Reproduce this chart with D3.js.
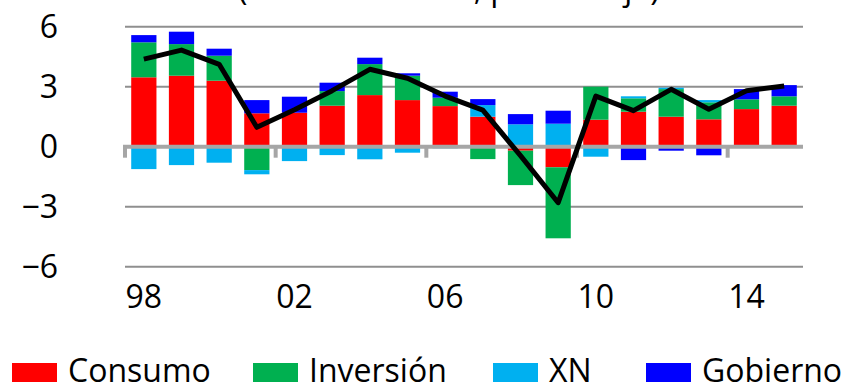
<!DOCTYPE html>
<html>
<head>
<meta charset="utf-8">
<script src="https://cdn.jsdelivr.net/npm/d3@7"></script>
<style>
  html, body { margin: 0; padding: 0; background: #fff; }
  svg { display: block; font-family: "Open Sans", sans-serif; }
</style>
</head>
<body>
<svg id="chart" width="850" height="385"></svg>
<script>
// Contribuciones al crecimiento del PIB por componente
const years = ["98","99","00","01","02","03","04","05","06","07","08","09","10","11","12","13","14","15"];
const tickLabels = ["98","02","06","10","14"];
const consumo   = [3.47, 3.55, 3.30, 1.67, 1.70, 2.05, 2.58, 2.33, 2.03, 1.50, -0.20, -1.03, 1.35, 1.75, 1.50, 1.37, 1.88, 2.05];
const inversion = [1.75, 1.58, 1.25, -1.17, 0.00, 0.73, 1.55, 1.22, 0.42, -0.62, -1.72, -3.55, 1.65, 0.67, 1.38, 0.85, 0.49, 0.47];
const xn        = [-1.12, -0.92, -0.80, -0.21, -0.72, -0.42, -0.63, -0.30, -0.08, 0.58, 1.12, 1.15, -0.50, 0.10, 0.07, 0.11, 0.00, 0.00];
const gobierno  = [0.36, 0.62, 0.35, 0.66, 0.80, 0.42, 0.32, 0.12, 0.30, 0.30, 0.51, 0.65, 0.00, -0.67, -0.20, -0.43, 0.51, 0.56];
const pib       = [4.38, 4.83, 4.12, 0.97, 1.85, 2.80, 3.87, 3.42, 2.53, 1.83, -0.45, -2.80, 2.53, 1.80, 2.87, 1.87, 2.80, 3.03];
const yTicks = [6, 3, 0, -3, -6];

const seriesNames = ["Consumo", "Inversión", "XN", "Gobierno"];
const colors = ["#ff0000", "#00b050", "#00b0f0", "#0000ff"];

const rows = years.map((y, i) => ({
  year: y,
  "Consumo": consumo[i],
  "Inversión": inversion[i],
  "XN": xn[i],
  "Gobierno": gobierno[i]
}));

const svg = d3.select("#chart");

const x = d3.scaleBand().domain(years).range([125, 803]).paddingInner(0.33).paddingOuter(0.165);
const y = d3.scaleLinear().domain([-6, 6]).range([266.7, 26.7]);

// título (parcialmente visible en el borde superior)
svg.append("text")
  .attr("x", 238).attr("y", 0)
  .attr("font-size", 32)
  .attr("fill", "#000")
  .text("(variación anual, porcentaje)");

// líneas de referencia horizontales
svg.append("g")
  .selectAll("line")
  .data(yTicks.filter(d => d !== 0))
  .join("line")
  .attr("x1", 125).attr("x2", 803)
  .attr("y1", d => y(d)).attr("y2", d => y(d))
  .attr("stroke", "#8f8f8f").attr("stroke-width", 2);

// etiquetas del eje vertical
const yAxis = d3.axisLeft(y).tickValues(yTicks).tickSize(0).tickPadding(0).tickFormat(d3.format("d"));
const gy = svg.append("g").attr("transform", "translate(58,0)").call(yAxis);
gy.select(".domain").remove();
gy.selectAll("text")
  .attr("font-size", 32).attr("font-family", "Open Sans, sans-serif")
  .attr("fill", "#000").attr("dy", "0.35em");

// barras apiladas (positivas hacia arriba, negativas hacia abajo)
const stack = d3.stack().keys(seriesNames).offset(d3.stackOffsetDiverging);
const stacked = stack(rows);

svg.append("g")
  .selectAll("g")
  .data(stacked)
  .join("g")
  .attr("fill", (d, i) => colors[i])
  .selectAll("rect")
  .data(d => d)
  .join("rect")
  .attr("x", d => x(d.data.year))
  .attr("width", x.bandwidth())
  .attr("y", d => y(Math.max(d[0], d[1])))
  .attr("height", d => Math.abs(y(d[0]) - y(d[1])));

// eje cero con marcas cada cuatro años
const xAxis = d3.axisBottom(x).tickValues(tickLabels).tickSize(0).tickPadding(0);
const gx = svg.append("g").attr("transform", `translate(0,${y(0)})`);
gx.append("line")
  .attr("x1", 123).attr("x2", 803)
  .attr("y1", 0).attr("y2", 0)
  .attr("stroke", "#a6a6a6").attr("stroke-width", 4);
gx.selectAll(".tickmark")
  .data(tickLabels)
  .join("line")
  .attr("class", "tickmark")
  .attr("x1", d => x(d) - x.step() * x.paddingOuter())
  .attr("x2", d => x(d) - x.step() * x.paddingOuter())
  .attr("y1", 0).attr("y2", 11)
  .attr("stroke", "#a6a6a6").attr("stroke-width", 4);

// etiquetas de años
const gLabels = svg.append("g").attr("transform", "translate(0,308)").call(xAxis);
gLabels.select(".domain").remove();
gLabels.selectAll("text")
  .attr("font-size", 32).attr("font-family", "Open Sans, sans-serif")
  .attr("fill", "#000").attr("dy", 0);

// línea del PIB
const line = d3.line()
  .x((d, i) => x(years[i]) + x.bandwidth() / 2)
  .y(d => y(d));
svg.append("path")
  .datum(pib)
  .attr("d", line)
  .attr("fill", "none")
  .attr("stroke", "#000")
  .attr("stroke-width", 5)
  .attr("stroke-linejoin", "round");

// leyenda
const legendX = [12, 253, 493, 646];
const legend = svg.append("g").attr("transform", "translate(0,382)");
const items = legend.selectAll("g")
  .data(seriesNames)
  .join("g")
  .attr("transform", (d, i) => `translate(${legendX[i]},0)`);
items.append("rect")
  .attr("x", 0).attr("y", -19)
  .attr("width", 45).attr("height", 19)
  .attr("fill", (d, i) => colors[i]);
items.append("text")
  .attr("x", 56).attr("y", 0)
  .attr("font-size", 32)
  .attr("fill", "#000")
  .text(d => d);
</script>
</body>
</html>
